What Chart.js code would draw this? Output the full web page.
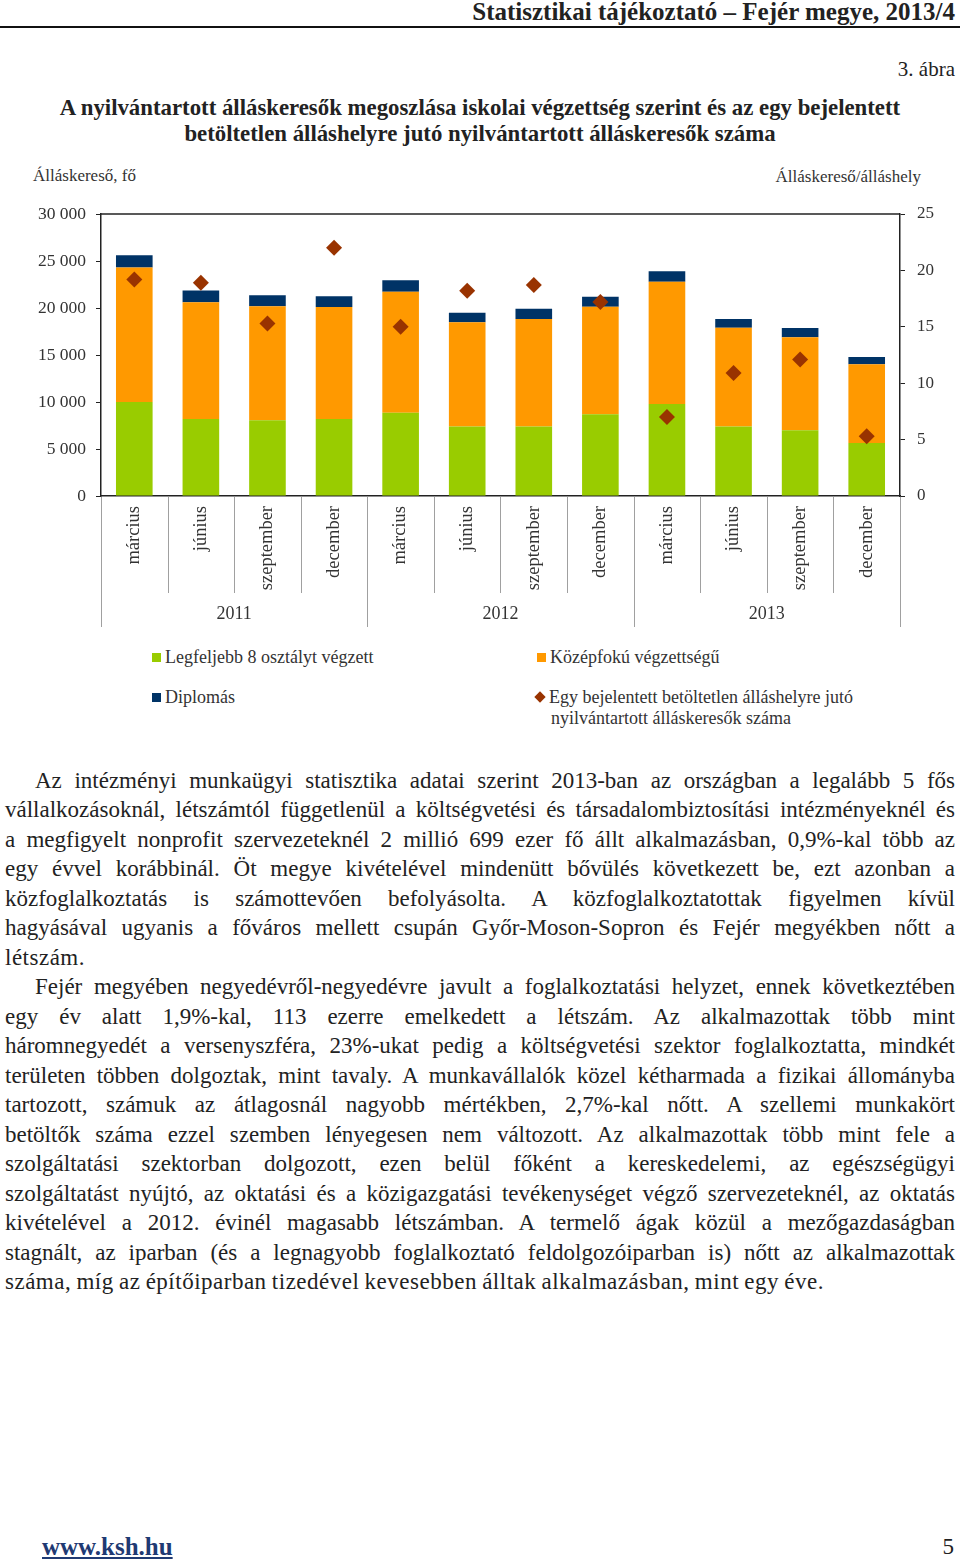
<!DOCTYPE html>
<html lang="hu">
<head>
<meta charset="utf-8">
<script src="https://cdn.jsdelivr.net/npm/chart.js@4.4.1/dist/chart.umd.min.js"></script>
<style>
  body { margin: 0; width: 960px; height: 1562px; background: #fff; position: relative; font-family: "Liberation Serif", serif; color: #222; overflow: hidden; }
  .abs { position: absolute; white-space: nowrap; }
  #head { right: 5px; top: -2px; font-weight: bold; font-size: 25px; line-height: 28px; }
  #rule { left: 0; top: 26px; width: 960px; height: 2px; background: #111; }
  #fig { right: 5px; top: 57px; font-size: 21px; }
  #title { left: 0; width: 960px; top: 95px; text-align: center; font-weight: bold; font-size: 22.8px; line-height: 26px; }
  .unit { font-size: 17px; color: #333; }
  #chart-wrap { position: absolute; left: 0; top: 190px; }
  .leg { font-size: 18px; color: #333; line-height: 21px; }
  .sw { display: inline-block; width: 9px; height: 9px; margin-right: 4px; vertical-align: 1px; }
  #text { position: absolute; left: 5px; top: 766px; width: 950px; font-size: 23px; line-height: 29.47px; word-spacing: -1px; color: #222; }
  #text div { text-align: justify; text-align-last: justify; }
  #text div.ind { text-indent: 30px; }
  #text div.end { text-align-last: left; letter-spacing: 0.5px; }
  #foot { left: 42px; top: 1533px; font-size: 25px; font-weight: bold; color: #1f3a73; text-decoration: underline; }
  #page { right: 6px; top: 1534px; font-size: 23px; }
</style>
</head>
<body>
<div class="abs" id="head">Statisztikai tájékoztató – Fejér megye, 2013/4</div>
<div class="abs" id="rule"></div>
<div class="abs" id="fig">3. ábra</div>
<div class="abs" id="title">A nyilvántartott álláskeresők megoszlása iskolai végzettség szerint és az egy bejelentett<br>betöltetlen álláshelyre jutó nyilvántartott álláskeresők száma</div>
<div class="abs unit" style="left:33px; top:166px;">Álláskereső, fő</div>
<div class="abs unit" style="right:39px; top:167px;">Álláskereső/álláshely</div>

<div id="chart-wrap"><canvas id="chart" width="960" height="450" style="width:960px;height:450px"></canvas></div>

<div class="abs leg" style="left:152px; top:647px;"><span class="sw" style="background:#99cc00"></span>Legfeljebb 8 osztályt végzett</div>
<div class="abs leg" style="left:537px; top:647px;"><span class="sw" style="background:#ff9900"></span>Középfokú végzettségű</div>
<div class="abs leg" style="left:152px; top:687px;"><span class="sw" style="background:#003366"></span>Diplomás</div>
<div class="abs leg" style="left:536px; top:687px;"><span class="sw" style="background:#993300; width:8px; height:8px; transform:rotate(45deg); margin-right:5px; vertical-align:2px;"></span>Egy bejelentett betöltetlen álláshelyre jutó<br><span style="padding-left:15px">nyilvántartott álláskeresők száma</span></div>

<div id="text">
  <div class="ind">Az intézményi munkaügyi statisztika adatai szerint 2013-ban az országban a legalább 5 fős</div>
  <div>vállalkozásoknál, létszámtól függetlenül a költségvetési és társadalombiztosítási intézményeknél és</div>
  <div>a megfigyelt nonprofit szervezeteknél 2 millió 699 ezer fő állt alkalmazásban, 0,9%-kal több az</div>
  <div>egy évvel korábbinál. Öt megye kivételével mindenütt bővülés következett be, ezt azonban a</div>
  <div>közfoglalkoztatás is számottevően befolyásolta. A közfoglalkoztatottak figyelmen kívül</div>
  <div>hagyásával ugyanis a főváros mellett csupán Győr-Moson-Sopron és Fejér megyékben nőtt a</div>
  <div class="end">létszám.</div>
  <div class="ind">Fejér megyében negyedévről-negyedévre javult a foglalkoztatási helyzet, ennek következtében</div>
  <div>egy év alatt 1,9%-kal, 113 ezerre emelkedett a létszám. Az alkalmazottak több mint</div>
  <div>háromnegyedét a versenyszféra, 23%-ukat pedig a költségvetési szektor foglalkoztatta, mindkét</div>
  <div>területen többen dolgoztak, mint tavaly. A munkavállalók közel kétharmada a fizikai állományba</div>
  <div>tartozott, számuk az átlagosnál nagyobb mértékben, 2,7%-kal nőtt. A szellemi munkakört</div>
  <div>betöltők száma ezzel szemben lényegesen nem változott. Az alkalmazottak több mint fele a</div>
  <div>szolgáltatási szektorban dolgozott, ezen belül főként a kereskedelemi, az egészségügyi</div>
  <div>szolgáltatást nyújtó, az oktatási és a közigazgatási tevékenységet végző szervezeteknél, az oktatás</div>
  <div>kivételével a 2012. évinél magasabb létszámban. A termelő ágak közül a mezőgazdaságban</div>
  <div>stagnált, az iparban (és a legnagyobb foglalkoztató feldolgozóiparban is) nőtt az alkalmazottak</div>
  <div class="end">száma, míg az építőiparban tizedével kevesebben álltak alkalmazásban, mint egy éve.</div>
</div>

<div class="abs" id="foot">www.ksh.hu</div>
<div class="abs" id="page">5</div>

<script>
// negyedéves adatok, 2011 március – 2013 december
const months = ["március", "június", "szeptember", "december",
                "március", "június", "szeptember", "december",
                "március", "június", "szeptember", "december"];
const years = ["2011", "2012", "2013"];

// álláskeresők, fő
const alapfoku = [10000, 8200, 8050, 8200, 8850, 7400, 7400, 8700, 9800, 7400, 7000, 5650];
const kozepfoku = [14300, 12400, 12130, 11900, 12880, 11080, 11430, 11440, 13000, 10500, 9900, 8370];
const diplomas = [1300, 1250, 1170, 1140, 1220, 1020, 1100, 1060, 1100, 930, 960, 780];
// álláskereső / álláshely
const perAllashely = [19.2, 18.9, 15.3, 22.0, 15.0, 18.2, 18.7, 17.2, 7.0, 10.9, 12.1, 5.3];

const leftTicks = [0, 5000, 10000, 15000, 20000, 25000, 30000];
const rightTicks = [0, 5, 10, 15, 20, 25];

const fmtThousands = (v) => String(v).replace(/\B(?=(\d{3})+(?!\d))/g, " ");

Chart.defaults.font.family = "'Liberation Serif', serif";
Chart.defaults.color = "#333";

// two-level category axis: separators and year labels under the months
const groupAxis = {
  id: "groupAxis",
  afterDraw(chart) {
    const { ctx, chartArea: a, scales: { x } } = chart;
    const step = x.getPixelForValue(1) - x.getPixelForValue(0);
    ctx.save();
    ctx.lineWidth = 1;
    ctx.strokeStyle = "#a0a0a0";
    for (let i = 0; i <= months.length; i++) {
      const px = Math.round(x.getPixelForValue(i) - step / 2) + 0.5;
      const len = i % 4 === 0 ? 131 : 97;
      ctx.beginPath();
      ctx.moveTo(px, a.bottom + 1);
      ctx.lineTo(px, a.bottom + len);
      ctx.stroke();
    }
    ctx.strokeStyle = "#222";
    ctx.lineWidth = 1.5;
    ctx.beginPath();
    ctx.moveTo(a.left, a.top);
    ctx.lineTo(a.right, a.top);
    ctx.stroke();
    ctx.fillStyle = "#333";
    ctx.font = "18px 'Liberation Serif', serif";
    ctx.textAlign = "center";
    ctx.textBaseline = "middle";
    years.forEach((yr, g) => {
      const cx = (x.getPixelForValue(g * 4) + x.getPixelForValue(g * 4 + 3)) / 2;
      ctx.fillText(yr, cx, a.bottom + 118);
    });
    ctx.restore();
  },
};

new Chart(document.getElementById("chart"), {
  type: "bar",
  data: {
    labels: months,
    datasets: [
      { type: "line", label: "Egy bejelentett betöltetlen álláshelyre jutó nyilvántartott álláskeresők száma",
        data: perAllashely, yAxisID: "y1", showLine: false, order: 0,
        pointStyle: "rectRot", pointRadius: 8, pointBackgroundColor: "#993300", pointBorderWidth: 0 },
      { label: "Legfeljebb 8 osztályt végzett", data: alapfoku, backgroundColor: "#99cc00", order: 1, stack: "a" },
      { label: "Középfokú végzettségű", data: kozepfoku, backgroundColor: "#ff9900", order: 1, stack: "a" },
      { label: "Diplomás", data: diplomas, backgroundColor: "#003366", order: 1, stack: "a" },
    ],
  },
  options: {
    responsive: false,
    animation: false,
    layout: { padding: { top: 24, bottom: 0, left: 0, right: 0 } },
    datasets: { bar: { barPercentage: 0.55, categoryPercentage: 1 } },
    plugins: { legend: { display: false }, tooltip: { enabled: false } },
    scales: {
      x: {
        stacked: true,
        grid: { display: false, drawTicks: false },
        border: { display: true, color: "#222", width: 1.5 },
        ticks: { autoSkip: false, minRotation: 90, maxRotation: 90, padding: 10, font: { size: 18.5 }, color: "#333" },
        afterFit: (s) => { s.height = 144; },
      },
      y: {
        stacked: true,
        min: 0, max: 30000,
        afterBuildTicks: (s) => { s.ticks = leftTicks.map((v) => ({ value: v })); },
        grid: { drawOnChartArea: false, tickLength: 5, color: "#222" },
        border: { display: true, color: "#222", width: 1.5 },
        ticks: { padding: 10, font: { size: 17.5 }, color: "#333", callback: (v) => fmtThousands(v) },
        afterFit: (s) => { s.width = 101; },
      },
      y1: {
        position: "right",
        min: 0, max: 25,
        afterBuildTicks: (s) => { s.ticks = rightTicks.map((v) => ({ value: v })); },
        grid: { drawOnChartArea: false, tickLength: 5, color: "#222" },
        border: { display: true, color: "#222", width: 1.5 },
        ticks: { padding: 12, font: { size: 17 }, color: "#333" },
        afterFit: (s) => { s.width = 60; },
      },
    },
  },
  plugins: [groupAxis],
});
</script>
</body>
</html>
